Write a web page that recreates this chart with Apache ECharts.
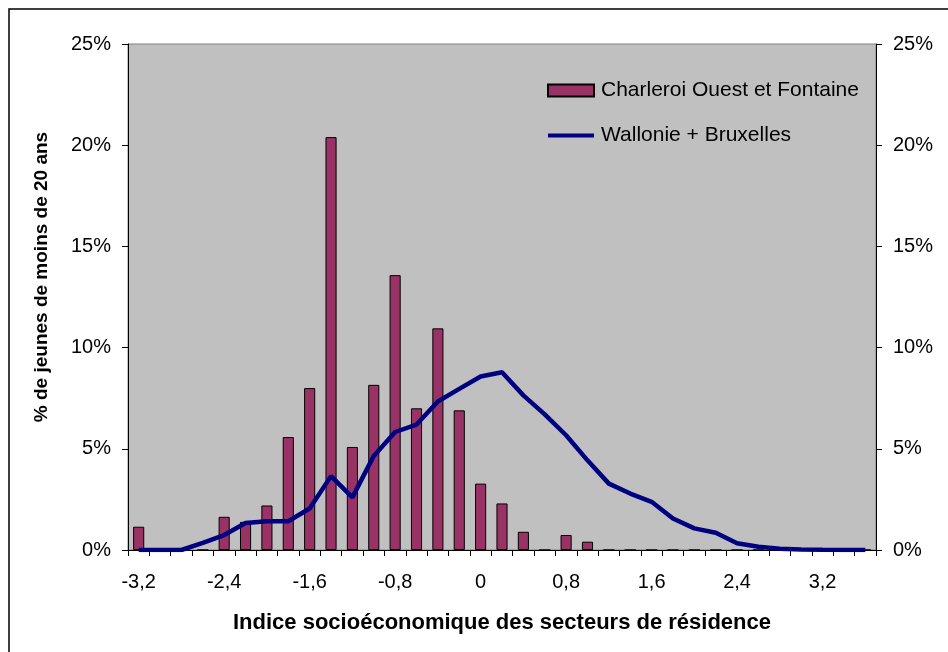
<!DOCTYPE html>
<html>
<head>
<meta charset="utf-8">
<script src="https://cdn.jsdelivr.net/npm/echarts@6/dist/echarts.min.js"></script>
<style>
	html, body { margin: 0; padding: 0; background: #fff; }
	#chart { width: 948px; height: 652px; }
</style>
</head>
<body>
<div id="chart"></div>
<script>
	// indice socioéconomique (pas de 0,2)
	var categories = ['-3,2', '-3', '-2,8', '-2,6', '-2,4', '-2,2', '-2', '-1,8', '-1,6', '-1,4', '-1,2', '-1',
		'-0,8', '-0,6', '-0,4', '-0,2', '0', '0,2', '0,4', '0,6', '0,8', '1', '1,2', '1,4', '1,6', '1,8',
		'2', '2,2', '2,4', '2,6', '2,8', '3', '3,2', '3,4', '3,6'];

	// Charleroi Ouest et Fontaine (%)
	var charleroi = [1.15, 0, 0, 0, 1.64, 1.39, 2.2, 5.58, 8.0, 20.4, 5.09, 8.16,
		13.58, 7.0, 10.95, 6.9, 3.28, 2.3, 0.9, 0, 0.74, 0.41, 0, 0, 0, 0,
		0, 0, 0, 0, 0, 0, 0, 0, 0];

	// Wallonie + Bruxelles (%)
	var wallonie = [0, 0, 0, 0.35, 0.74, 1.33, 1.42, 1.42, 2.05, 3.65, 2.6, 4.65,
		5.83, 6.2, 7.34, 7.96, 8.57, 8.78, 7.64, 6.7, 5.67, 4.43, 3.28, 2.79, 2.38, 1.56,
		1.07, 0.85, 0.33, 0.16, 0.06, 0.03, 0.01, 0, 0];

	var fontFamily = '"Liberation Sans", Arial, sans-serif';

	var myChart = echarts.init(document.getElementById('chart'));

	var option = {
		animation: false,
		textStyle: { fontFamily: fontFamily },
		graphic: [{
			type: 'rect',
			shape: { x: 9, y: 9, width: 1000, height: 1000 },
			style: { fill: 'none', stroke: '#000', lineWidth: 1.5 },
			silent: true
		}],
		grid: {
			left: 128,
			right: 72,
			top: 44,
			bottom: 102,
			show: true,
			backgroundColor: '#C0C0C0',
			borderColor: '#808080',
			borderWidth: 1
		},
		legend: {
			orient: 'vertical',
			left: 541,
			top: 75,
			itemWidth: 46,
			itemHeight: 12,
			itemGap: 24,
			textStyle: { fontSize: 21, color: '#000', fontFamily: fontFamily, padding: [0, 0, 0, 2] },
			data: [
				{ name: 'Charleroi Ouest et Fontaine', icon: 'rect' },
				{ name: 'Wallonie + Bruxelles', itemStyle: { opacity: 0 }, lineStyle: { width: 4 } }
			]
		},
		xAxis: {
			type: 'category',
			data: categories,
			name: 'Indice socioéconomique des secteurs de résidence',
			nameLocation: 'middle',
			nameGap: 62,
			nameTextStyle: { fontSize: 22, fontWeight: 'bold', color: '#000' },
			axisLine: { lineStyle: { color: '#000', width: 1 } },
			axisTick: { show: true, interval: 0, length: 6, lineStyle: { color: '#000' } },
			axisLabel: { interval: 3, fontSize: 20, color: '#000', margin: 22 },
			splitLine: { show: false }
		},
		yAxis: [{
			type: 'value',
			min: 0,
			max: 25,
			interval: 5,
			name: '% de jeunes de moins de 20 ans',
			nameLocation: 'middle',
			nameGap: 77,
			// décalé vers le haut comme dans l'original
			nameTextStyle: { fontSize: 19, fontWeight: 'bold', color: '#000', padding: [0, 0, 0, 40] },
			axisLine: { show: true, lineStyle: { color: '#000' } },
			axisTick: { show: true, length: 6, lineStyle: { color: '#000' } },
			axisLabel: { formatter: '{value}%', fontSize: 20, color: '#000', margin: 17 },
			splitLine: { show: false }
		}, {
			type: 'value',
			min: 0,
			max: 25,
			interval: 5,
			position: 'right',
			axisLine: { show: true, lineStyle: { color: '#000' } },
			axisTick: { show: true, length: 6, lineStyle: { color: '#000' } },
			axisLabel: { formatter: '{value}%', fontSize: 20, color: '#000', margin: 17 },
			splitLine: { show: false }
		}],
		series: [{
			name: 'Charleroi Ouest et Fontaine',
			type: 'bar',
			data: charleroi,
			barCategoryGap: '48%',
			itemStyle: { color: '#993366', borderColor: '#000', borderWidth: 1 }
		}, {
			name: 'Wallonie + Bruxelles',
			type: 'line',
			data: wallonie,
			symbol: 'none',
			lineStyle: { color: '#000080', width: 4.5 },
			itemStyle: { color: '#000080' }
		}]
	};

	myChart.setOption(option);
</script>
</body>
</html>
